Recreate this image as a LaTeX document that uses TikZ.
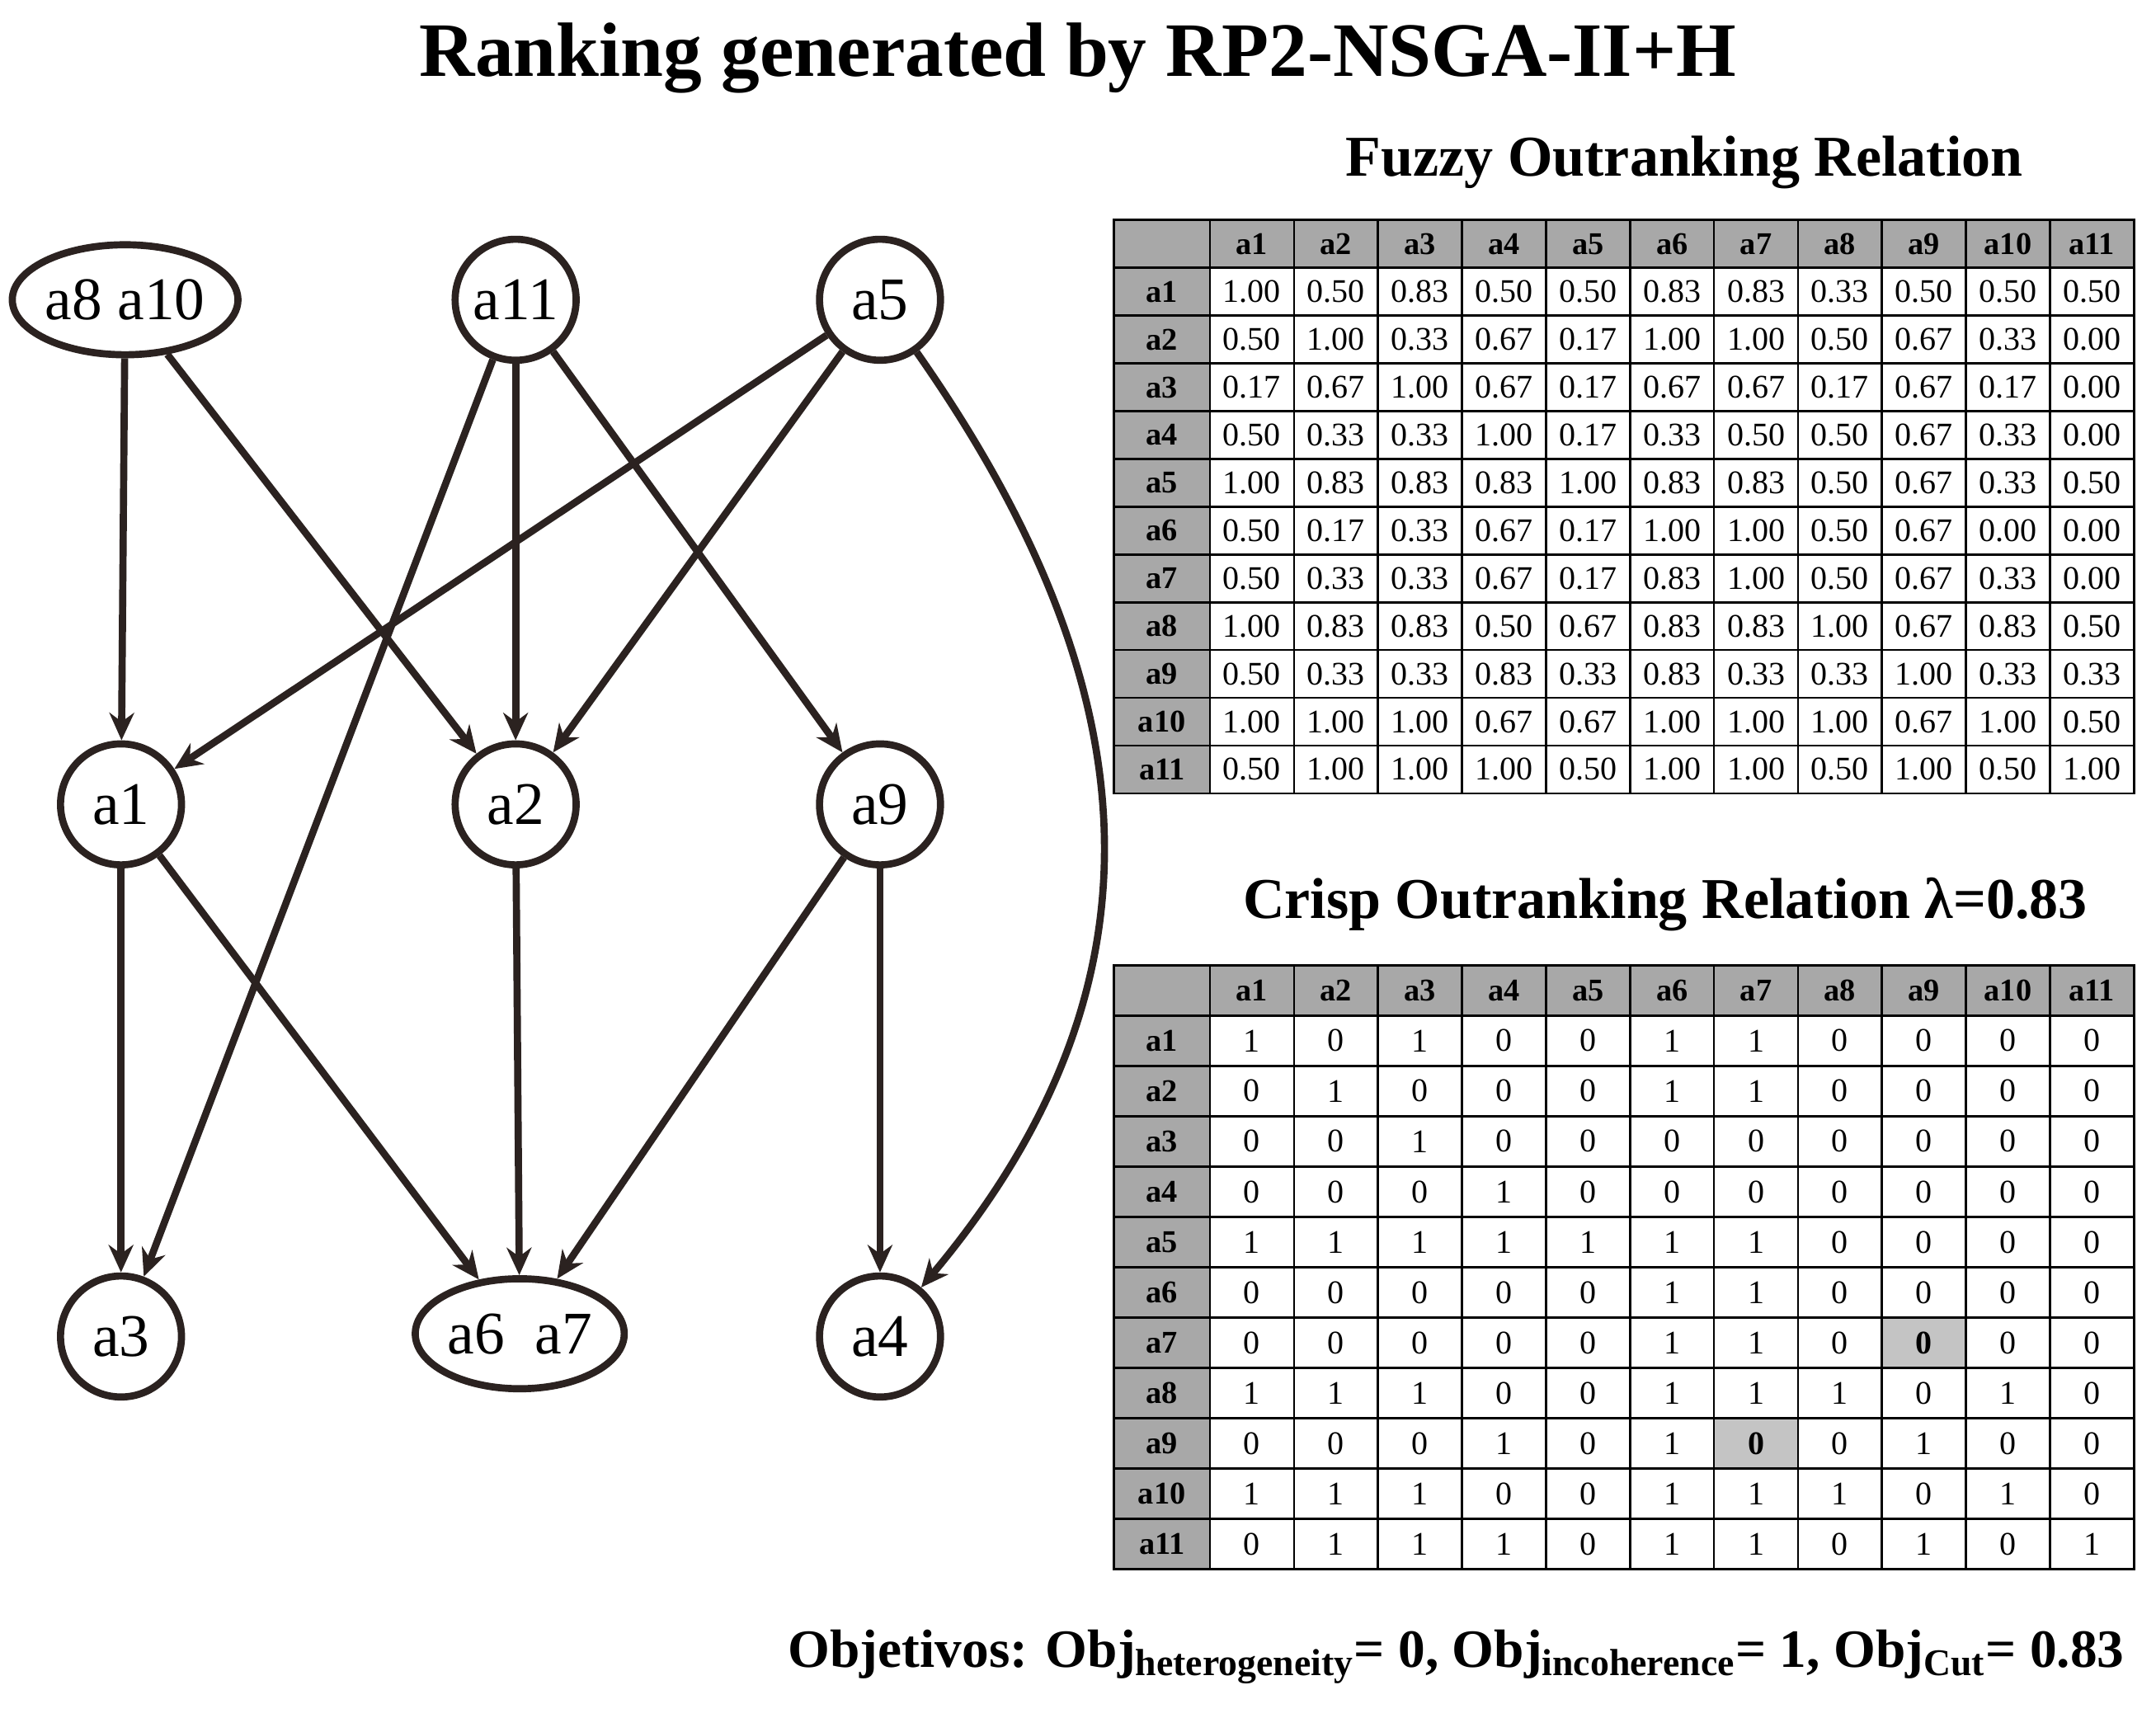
\documentclass[tikz,border=0pt]{standalone}
\usepackage{fontspec}
\setmainfont{Liberation Serif}
\usetikzlibrary{shapes.geometric,arrows.meta}
\definecolor{edge}{HTML}{2B2220}
\definecolor{hdr}{HTML}{A8A8A8}
\definecolor{hl}{HTML}{C4C4C4}
\begin{document}
\begin{tikzpicture}[x=0.5pt,y=-0.5pt,
  vtx/.style={circle,draw=edge,line width=2.6pt,minimum size=44pt,inner sep=0pt,font=\fontsize{22}{22}\selectfont},
  evtx/.style={ellipse,draw=edge,line width=2.6pt,minimum width=76pt,minimum height=40pt,inner sep=0pt,font=\fontsize{22}{22}\selectfont},
  arr/.style={draw=edge,line width=2.6pt,-{Stealth[length=10pt,width=9pt]}},
  cell/.style={draw=black,line width=0.8pt},
  ttl/.style={font=\bfseries\fontsize{21}{21}\selectfont}]
\useasboundingbox (0,0) rectangle (1568,1249);
\node[font=\bfseries\fontsize{28}{28}\selectfont] (title) at (784,42) {Ranking generated by RP2-NSGA-II+H};
% graph
\node[evtx] (a810) at (91,218) {a8 a10};
\node[vtx] (a11) at (375,218) {a11};
\node[vtx] (a5) at (640,218) {a5};
\node[vtx] (a1) at (88,585) {a1};
\node[vtx] (a2) at (375,585) {a2};
\node[vtx] (a9) at (640,585) {a9};
\node[vtx] (a3) at (88,972) {a3};
\node[evtx] (a67) at (378,970) {a6\ \ a7};
\node[vtx] (a4) at (640,972) {a4};
\draw[arr] (a810) -- (a1);
\draw[arr] (a810) -- (a2);
\draw[arr] (a11) -- (a2);
\draw[arr] (a11) -- (a9);
\draw[arr] (a11) -- (a3);
\draw[arr] (a5) -- (a1);
\draw[arr] (a5) -- (a2);
\draw[arr] (a5) to[out=-55,in=50,looseness=1.1] (a4);
\draw[arr] (a1) -- (a3);
\draw[arr] (a1) -- (a67);
\draw[arr] (a2) -- (a67);
\draw[arr] (a9) -- (a67);
\draw[arr] (a9) -- (a4);
% tables
\node[ttl] (t1) at (1225,118) {Fuzzy Outranking Relation};
\node[ttl] (t2) at (1211,658) {Crisp Outranking Relation λ=0.83};
\def\cw{61.09}
% table 1
\def\ty{160}\def\rh{34.75}
\foreach \r in {0,...,11}{
  \pgfmathsetmacro\yy{\ty+\r*\rh}
  \fill[hdr] (810,\yy) rectangle (880,\yy+\rh);
  \draw[cell] (810,\yy) rectangle (880,\yy+\rh);
  \ifnum\r>0 \node[font=\bfseries\fontsize{11.5}{11.5}\selectfont] at (845,\yy+\rh/2) {a\r};\fi
  \foreach \c in {1,...,11}{
    \pgfmathsetmacro\xx{880+(\c-1)*\cw}
    \ifnum\r=0 \fill[hdr] (\xx,\yy) rectangle (\xx+\cw,\yy+\rh);
      \node[font=\bfseries\fontsize{11.5}{11.5}\selectfont] at (\xx+\cw/2,\yy+\rh/2) {a\c};\fi
    \draw[cell] (\xx,\yy) rectangle (\xx+\cw,\yy+\rh);
  }
}
\foreach \row [count=\r] in {
{1.00,0.50,0.83,0.50,0.50,0.83,0.83,0.33,0.50,0.50,0.50},
{0.50,1.00,0.33,0.67,0.17,1.00,1.00,0.50,0.67,0.33,0.00},
{0.17,0.67,1.00,0.67,0.17,0.67,0.67,0.17,0.67,0.17,0.00},
{0.50,0.33,0.33,1.00,0.17,0.33,0.50,0.50,0.67,0.33,0.00},
{1.00,0.83,0.83,0.83,1.00,0.83,0.83,0.50,0.67,0.33,0.50},
{0.50,0.17,0.33,0.67,0.17,1.00,1.00,0.50,0.67,0.00,0.00},
{0.50,0.33,0.33,0.67,0.17,0.83,1.00,0.50,0.67,0.33,0.00},
{1.00,0.83,0.83,0.50,0.67,0.83,0.83,1.00,0.67,0.83,0.50},
{0.50,0.33,0.33,0.83,0.33,0.83,0.33,0.33,1.00,0.33,0.33},
{1.00,1.00,1.00,0.67,0.67,1.00,1.00,1.00,0.67,1.00,0.50},
{0.50,1.00,1.00,1.00,0.50,1.00,1.00,0.50,1.00,0.50,1.00}}{
  \foreach \v [count=\c] in \row {
    \node[font=\fontsize{12}{12}\selectfont] at (880+\c*\cw-\cw/2,\ty+\r*\rh+\rh/2) {\v};
  }
}
% table 2
\def\tyb{702}\def\rhb{36.6}
\fill[hl] (880+8*\cw,\tyb+7*\rhb) rectangle (880+9*\cw,\tyb+8*\rhb);
\fill[hl] (880+6*\cw,\tyb+9*\rhb) rectangle (880+7*\cw,\tyb+10*\rhb);
\foreach \r in {0,...,11}{
  \pgfmathsetmacro\yy{\tyb+\r*\rhb}
  \fill[hdr] (810,\yy) rectangle (880,\yy+\rhb);
  \draw[cell] (810,\yy) rectangle (880,\yy+\rhb);
  \ifnum\r>0 \node[font=\bfseries\fontsize{11.5}{11.5}\selectfont] at (845,\yy+\rhb/2) {a\r};\fi
  \foreach \c in {1,...,11}{
    \pgfmathsetmacro\xx{880+(\c-1)*\cw}
    \ifnum\r=0 \fill[hdr] (\xx,\yy) rectangle (\xx+\cw,\yy+\rhb);
      \node[font=\bfseries\fontsize{11.5}{11.5}\selectfont] at (\xx+\cw/2,\yy+\rhb/2) {a\c};\fi
    \draw[cell] (\xx,\yy) rectangle (\xx+\cw,\yy+\rhb);
  }
}
\foreach \row [count=\r] in {
{1,0,1,0,0,1,1,0,0,0,0},
{0,1,0,0,0,1,1,0,0,0,0},
{0,0,1,0,0,0,0,0,0,0,0},
{0,0,0,1,0,0,0,0,0,0,0},
{1,1,1,1,1,1,1,0,0,0,0},
{0,0,0,0,0,1,1,0,0,0,0},
{0,0,0,0,0,1,1,0,\textbf{0},0,0},
{1,1,1,0,0,1,1,1,0,1,0},
{0,0,0,1,0,1,\textbf{0},0,1,0,0},
{1,1,1,0,0,1,1,1,0,1,0},
{0,1,1,1,0,1,1,0,1,0,1}}{
  \foreach \v [count=\c] in \row {
    \node[font=\fontsize{12}{12}\selectfont] at (880+\c*\cw-\cw/2,\tyb+\r*\rhb+\rhb/2) {\v};
  }
}
\node[font=\bfseries\fontsize{19.6}{19.6}\selectfont,anchor=east] (obj) at (1552,1205)
 {Objetivos: Obj\textsubscript{heterogeneity}= 0, Obj\textsubscript{incoherence}= 1, Obj\textsubscript{Cut}= 0.83};
\end{tikzpicture}
\end{document}
